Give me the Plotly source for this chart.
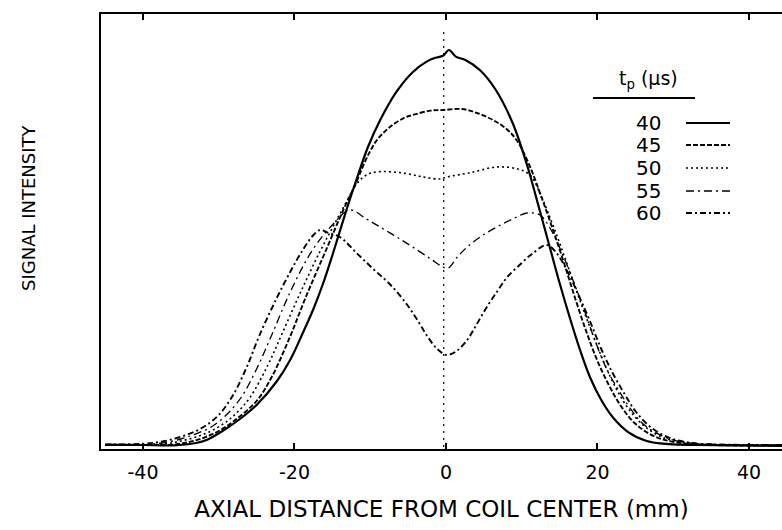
import plotly.graph_objects as go

# ---- data (x in mm, y in arbitrary intensity units) ----
x_40 = [-45, -40, -36, -33, -31.6, -29.5, -27.2, -25, -22.3, -20.5, -18.9, -17.5, -16.2, -14.9, -13.1, -11.7,
        -10.3, -8.7, -6.5, -4.4, -2.5, -1.4, -0.4, 0.4, 1.3, 2.5, 4.5, 6.5, 8.8, 10.7, 12.4, 13.7, 15.0, 16.4,
        17.7, 19.0, 20.5, 22.0, 24.0, 26.5, 29.5, 33, 38, 44.4]
y_40 = [0.6, 0.5, 0.4, 1.0, 1.75, 4, 7, 10.5, 16.5, 22, 28.5, 34.5, 41, 48.5, 59.5, 67.5,
        75, 81.7, 88.9, 93.7, 96.4, 97.3, 97.8, 99.25, 97.6, 96.8, 94.2, 89.5, 81, 70.5, 59, 50, 41, 32,
        24.25, 17.5, 11.75, 7.5, 3.8, 1.5, 0.7, 0.5, 0.4, 0.3]

x_45 = [-45, -40, -36, -34, -32, -30, -28, -25, -23, -20.6, -18.5, -16, -13.5, -12, -11, -10, -9, -7.4,
        -5.5, -4.4, -2, -0.4, 2.1, 4.1, 6.2, 8, 9.4, 11, 12.5, 14, 15.5, 17, 18.5, 20, 21.5, 23, 25, 27.5,
        30.5, 35, 44.4]
y_45 = [0.5, 0.5, 0.6, 1.2, 2.3, 4, 6.5, 11.5, 17.5, 27.5, 37.5, 48.5, 59.5, 65.5, 70, 74, 77, 80,
        82.3, 83, 84.1, 84.25, 84.5, 83.5, 81.75, 79.5, 76.5, 70.5, 63, 55, 46.5, 37.5, 29, 21.5, 15.5, 10.5,
        5.8, 2.7, 1.1, 0.5, 0.4]

x_50 = [-45, -40, -37, -35, -33, -31, -29, -27.5, -25.9, -23.5, -21.6, -19, -16.6, -14.5, -12.8, -11.7,
        -10.5, -9, -5.7, -3, -0.8, 0.1, 3, 6.7, 9.5, 11.1, 12.3, 13.5, 15, 16.5, 18, 19.5, 21, 22.5, 24, 26,
        28.5, 31, 35, 44.4]
y_50 = [0.5, 0.5, 0.8, 1.5, 2.5, 4, 6.3, 8.8, 12.3, 20.5, 28.5, 39.5, 49, 56.5, 62.5, 66,
        68, 68.8, 68.5, 67.5, 67, 67.5, 68.5, 70, 69.5, 68, 64, 58.5, 51, 43, 35, 27.5, 20.5, 14.5, 9.8, 5.5,
        2.5, 1.2, 0.6, 0.4]

x_55 = [-45, -40, -37.5, -35, -33, -31, -29, -27, -25, -23, -20.5, -17.7, -15, -12.7, -10.5, -8.7, -6.5,
        -4.4, -2, -0.4, 0.3, 1.5, 2.8, 4.5, 6.7, 8.8, 10.7, 12.4, 13.8, 15.2, 16.7, 18.2, 19.7, 21.2, 22.7,
        24.2, 26, 28.5, 31, 35, 44.4]
y_55 = [0.6, 0.6, 1.0, 2, 3.3, 5, 8, 12.5, 19.5, 28, 39, 49, 55.5, 59.25, 57, 55, 52.5,
        50, 47, 45, 44.75, 47.5, 50, 52.5, 55, 57, 58.5, 58, 54.5, 49, 42, 34.5, 26.5, 19.5, 14.5,
        10, 5.8, 2.8, 1.3, 0.7, 0.5]

x_60 = [-45, -40, -38, -36, -34, -32, -30, -28.1, -26.3, -24.6, -22.4, -20.5, -18.9, -17.5, -16.6, -15.5,
        -14.0, -11.8, -9.6, -7.3, -5.1, -3.7, -2.5, -1.2, 0.1, 1.4, 2.8, 4.0, 5.4, 6.8, 8.1, 10, 11.5, 13.3,
        14.6, 16, 17.5, 19, 20.5, 22, 23.5, 25, 27, 29.5, 32.5, 37, 44.4]
y_60 = [0.6, 0.8, 1.2, 2.0, 3.2, 5, 8, 13, 20, 28, 37, 44, 49.25, 53, 54.25, 53.5,
        52.5, 48.5, 44.5, 40.5, 35.5, 31.5, 27.8, 24.6, 23, 24, 26.75, 30.5, 35, 39, 42.5, 46, 48.5, 50.5,
        48.5, 44, 38, 31.5, 24.5, 18.5, 13.5, 9, 5, 2.3, 1.0, 0.6, 0.5]

series_names = ["40", "45", "50", "55", "60"]
series_x = [x_40, x_45, x_50, x_55, x_60]
series_y = [y_40, y_45, y_50, y_55, y_60]

x_ticks = [-40, -20, 0, 20, 40]
x_title = "AXIAL DISTANCE FROM COIL CENTER (mm)"
y_title = "SIGNAL INTENSITY"
legend_title = "t<sub>p</sub> (µs)"

# ---- styles ----
dashes = ["solid", "5px,2px", "2px,3px", "8px,4px,2px,4px", "6px,3px,2px,3px"]
widths = [2.2, 1.9, 1.6, 1.3, 1.9]
FONT = "DejaVu Sans, Verdana, sans-serif"

W, H = 782, 530
L, T, R, B = 101, 14, 0, 81
PW, PH = W - L - R, H - T - B


def px(xp):
    return (xp - L) / PW


def py(yp):
    return (H - B - yp) / PH


fig = go.Figure()
for name, xs, ys, d, w in zip(series_names, series_x, series_y, dashes, widths):
    fig.add_trace(go.Scatter(x=xs, y=ys, mode="lines", name=name,
                             line=dict(color="black", width=w, dash=d, shape="spline", smoothing=1.0),
                             showlegend=False))

shapes = []
# coil-center reference line
shapes.append(dict(type="line", xref="x", yref="y", x0=-0.3, x1=-0.3, y0=0, y1=104,
                   line=dict(color="black", width=1.2, dash="2px,5px")))
# legend underline
shapes.append(dict(type="line", xref="paper", yref="paper", x0=px(593), x1=px(695), y0=py(98), y1=py(98),
                   line=dict(color="black", width=2)))
annotations = [
    dict(text=legend_title, xref="paper", yref="paper", x=px(648), y=py(80), showarrow=False,
         xanchor="center", yanchor="middle", font=dict(size=19, family=FONT, color="black")),
    dict(text=y_title, xref="paper", yref="paper", x=px(29), y=py(208), showarrow=False,
         textangle=-90, xanchor="center", yanchor="middle", font=dict(size=18, family=FONT, color="black")),
]
row_y = [123, 145, 168, 191, 213]
for name, d, w, ry in zip(series_names, dashes, widths, row_y):
    annotations.append(dict(text=name, xref="paper", yref="paper", x=px(663), y=py(ry), showarrow=False,
                            xanchor="right", yanchor="middle",
                            font=dict(size=20, family=FONT, color="black")))
    shapes.append(dict(type="line", xref="paper", yref="paper", x0=px(686), x1=px(730), y0=py(ry), y1=py(ry),
                       line=dict(color="black", width=w, dash=d)))

fig.update_layout(
    width=W, height=H,
    margin=dict(l=L, r=R, t=T, b=B, pad=0),
    paper_bgcolor="white", plot_bgcolor="white",
    font=dict(family=FONT, color="black", size=19),
    shapes=shapes, annotations=annotations,
    xaxis=dict(range=[-45.54, 44.36], tickvals=x_ticks, ticktext=[str(v) for v in x_ticks],
               ticks="inside", ticklen=6, tickwidth=1.5, tickcolor="black",
               showline=True, linecolor="black", linewidth=2, mirror="ticks",
               showgrid=False, zeroline=False, tickfont=dict(size=19),
               ticklabelstandoff=5,
               title=dict(text=x_title, font=dict(size=23), standoff=19)),
    yaxis=dict(range=[-0.5, 108.25], showticklabels=False, ticks="",
               showline=True, linecolor="black", linewidth=2, mirror=False,
               showgrid=False, zeroline=False),
)

fig.write_html("out.html")
